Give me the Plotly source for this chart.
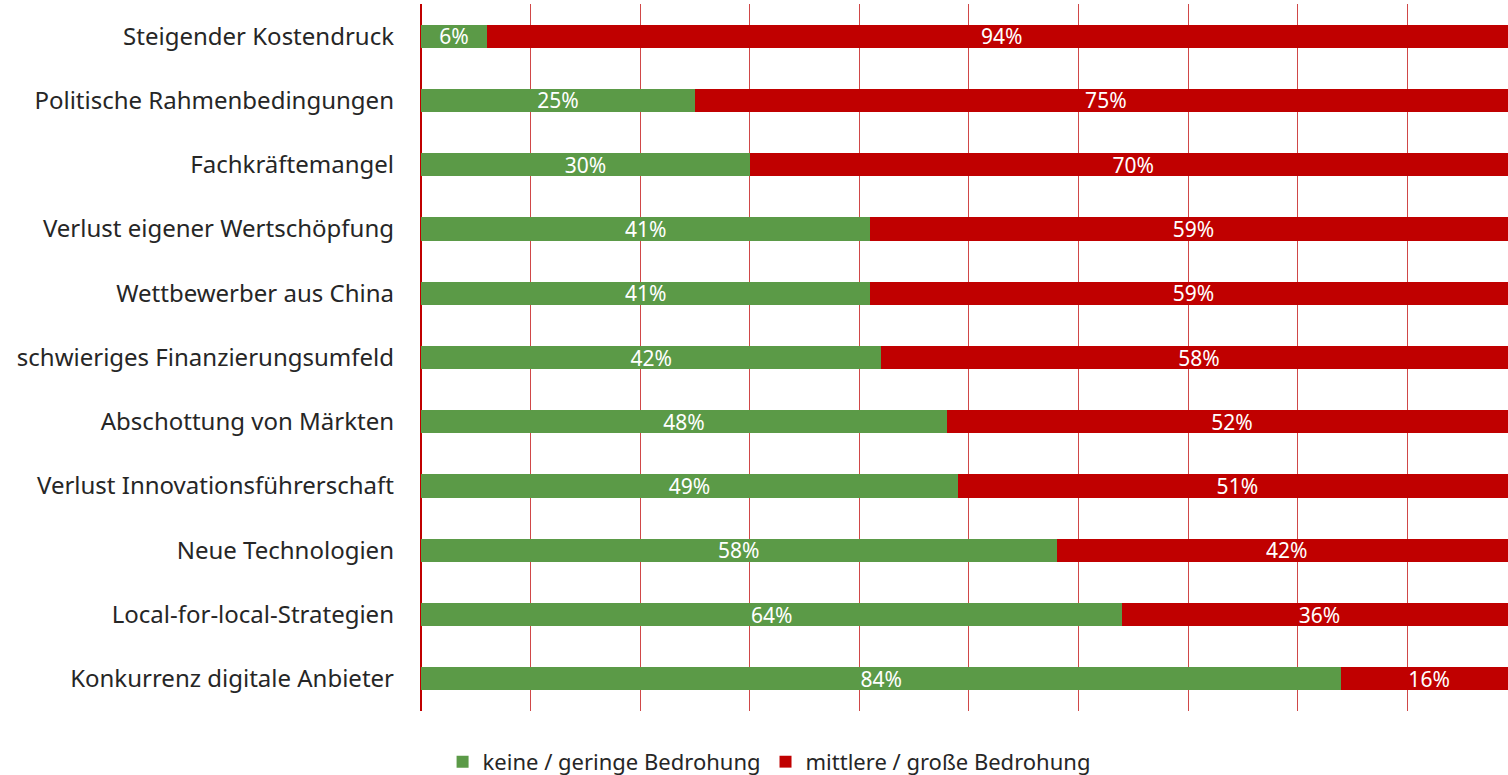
import plotly.graph_objects as go

# DATA
categories = [
    "Steigender Kostendruck",
    "Politische Rahmenbedingungen",
    "Fachkräftemangel",
    "Verlust eigener Wertschöpfung",
    "Wettbewerber aus China",
    "schwieriges Finanzierungsumfeld",
    "Abschottung von Märkten",
    "Verlust Innovationsführerschaft",
    "Neue Technologien",
    "Local-for-local-Strategien",
    "Konkurrenz digitale Anbieter",
]
keine_geringe = [6, 25, 30, 41, 41, 42, 48, 49, 58, 64, 84]
mittlere_grosse = [94, 75, 70, 59, 59, 58, 52, 51, 42, 36, 16]
series_names = ["keine / geringe Bedrohung", "mittlere / große Bedrohung"]

GREEN = "#5b9a47"
RED = "#c00000"
FONT = "Noto Sans"

fig = go.Figure()
for vals, name, col in [(keine_geringe, series_names[0], GREEN),
                        (mittlere_grosse, series_names[1], RED)]:
    fig.add_trace(go.Bar(
        y=categories,
        x=vals,
        name=name,
        orientation="h",
        marker=dict(color=col, line=dict(width=0)),
        width=0.36,
        text=[f"{v}%" for v in vals],
        textposition="inside",
        insidetextanchor="middle",
        textfont=dict(color="white", size=21, family=FONT),
        constraintext="none",
    ))

fig.update_layout(
    barmode="stack",
    width=1508,
    height=775,
    margin=dict(l=421, r=0, t=4, b=64),
    plot_bgcolor="white",
    paper_bgcolor="white",
    font=dict(family=FONT, color="#262626", size=22),
    legend=dict(
        orientation="h",
        traceorder="normal",
        xref="container", yref="container",
        x=0.51, y=0.017,
        xanchor="center", yanchor="middle",
        font=dict(size=22, color="#262626"),
        itemwidth=30,
    ),
    showlegend=True,
)
fig.update_xaxes(
    range=[0, 99.2],
    dtick=10,
    showgrid=True,
    gridcolor="#d04848",
    gridwidth=1,
    zeroline=True,
    zerolinecolor=RED,
    zerolinewidth=2,
    showticklabels=False,
    fixedrange=True,
)
fig.update_yaxes(
    autorange="reversed",
    showgrid=False,
    ticklabelstandoff=26,
    tickfont=dict(size=24, color="#262626"),
    fixedrange=True,
)

# remove default page margin so the figure fills the window exactly
fig.write_html("out.html", config={"displayModeBar": False},
               post_script="document.body.style.margin='0';")
